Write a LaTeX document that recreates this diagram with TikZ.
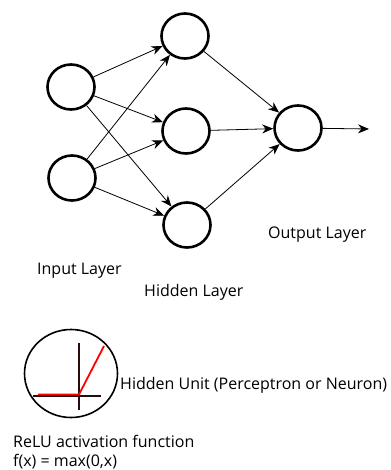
\documentclass[tikz,border=0pt]{standalone}
\usepackage{fontspec}
\setmainfont{Open Sans}
\usetikzlibrary{arrows.meta,shapes.geometric}
\begin{document}
\begin{tikzpicture}[x=1pt,y=-1pt,
  neuron/.style={draw,ellipse,line width=2.6pt,minimum width=47pt,minimum height=45pt,inner sep=0pt},
  conn/.style={line width=0.8pt,-{Stealth[length=11pt,width=9pt]}},
  lbl/.style={anchor=west,inner sep=0pt,font=\fontsize{16pt}{19pt}\selectfont},
  axis/.style={line width=2.4pt,draw={rgb,255:red,40;green,12;blue,12}},
  relu/.style={line width=1.8pt,draw=red}]
\useasboundingbox (0,0) rectangle (390,470);
\node[neuron] (i1) at (71,87) {};
\node[neuron] (i2) at (72,178) {};
\node[neuron] (h1) at (185,36) {};
\node[neuron] (h2) at (186,131) {};
\node[neuron] (h3) at (187,225) {};
\node[neuron] (o) at (298,128) {};
\coordinate (out) at (369,129);
\foreach \a in {i1,i2}{\foreach \b in {h1,h2,h3}{\draw[conn] (\a) -- (\b);}}
\foreach \b in {h1,h2,h3}{\draw[conn] (\b) -- (o);}
\draw[conn] (o) -- (out);
\node[lbl] (ol) at (268,235) {Output Layer};
\node[lbl] (il) at (37,271) {Input Layer};
\node[lbl] (hl) at (144,292) {Hidden Layer};
\node[draw,ellipse,line width=1.6pt,minimum width=93pt,minimum height=88pt,inner sep=0pt] (unit) at (71,373.5) {};
\draw[axis] (79,343) -- (79,410);
\draw[axis] (33,396) -- (101,396);
\draw[relu] (38,394.5) -- (79,394.5) -- (104,346);
\node[lbl] (hu) at (120,385) {Hidden Unit (Perceptron or Neuron)};
\node[lbl] (rl) at (13,441) {ReLU activation function};
\node[lbl] (fx) at (13,462) {f(x) = max(0,x)};
\end{tikzpicture}
\end{document}
